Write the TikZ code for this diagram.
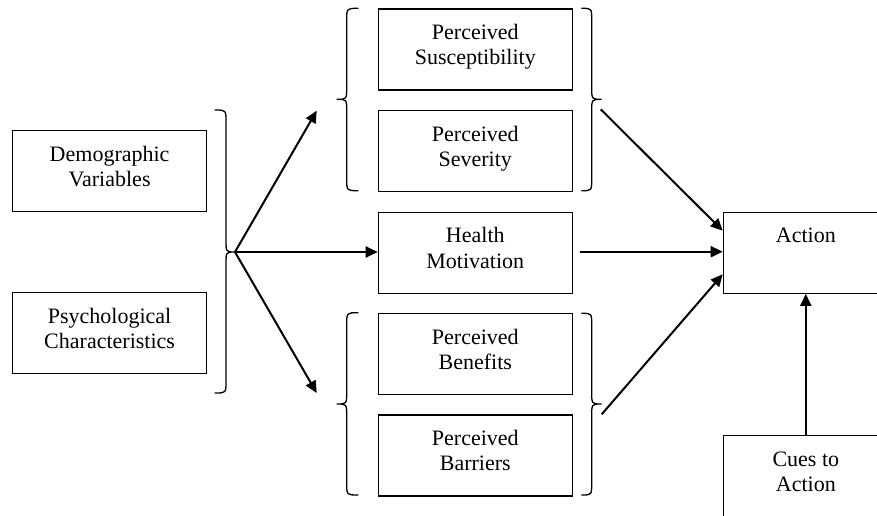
\documentclass[tikz,border=0pt]{standalone}
\usepackage{fontspec}
\setmainfont{Liberation Serif}
\usetikzlibrary{arrows.meta}
\newcommand\mybrace[7][]{%
  \draw[bracestyle,#1] (#2,#5) .. controls (#3,#5) .. (#3,#5+12) -- (#3,#6-12)
    .. controls (#3,#6) .. (#4,#6) .. controls (#3,#6) .. (#3,#6+12)
    -- (#3,#7-12) .. controls (#3,#7) .. (#2,#7);}
\begin{document}
\begin{tikzpicture}[x=1pt,y=-1pt,
  box/.style={draw, line width=1.2pt, align=center, inner xsep=2pt, inner ysep=0pt,
    text height=55.8pt, text depth=25.2pt, minimum width=194pt, anchor=north west,
    font=\fontsize{22}{25.3}\selectfont},
  narrowbox/.style={box, minimum width=165pt},
  bracestyle/.style={line width=1.3pt, line cap=round},
  arr/.style={line width=2pt, -{Triangle[length=12pt,width=11pt]}}]
\useasboundingbox (0,0) rectangle (877,515);
\clip (0,0) rectangle (877,515);
% left boxes
\node[box] (demo) at (12,130) {Demographic\\Variables};
\node[box] (psych) at (12,292) {Psychological\\Characteristics};
% middle boxes
\node[box] (sus) at (377.7,8.3) {Perceived\\Susceptibility};
\node[box] (sev) at (377.7,110) {Perceived\\Severity};
\node[box] (hm) at (377.7,211.7) {Health\\Motivation};
\node[box] (ben) at (377.7,313) {Perceived\\Benefits};
\node[box] (bar) at (377.7,414.3) {Perceived\\Barriers};
% right boxes
\node[narrowbox] (act) at (722.7,211.7) {Action\\\mbox{}};
\node[narrowbox] (cue) at (722.7,435) {Cues to\\Action};
% braces
\mybrace{215}{226}{235}{110}{252}{393}
\mybrace{358}{346.7}{336.7}{8.3}{99.3}{190.7}
\mybrace{358}{346.7}{336.7}{312.7}{404}{495}
\mybrace{581.7}{591.7}{601.7}{8.3}{99.3}{190.7}
\mybrace{581.7}{591.7}{601.7}{313.3}{404}{495}
% coordinates
\coordinate (bt) at (235,252);
\coordinate (up) at (316.7,110.7);
\coordinate (dn) at (316.7,393);
\coordinate (ts) at (600.7,109.3);
\coordinate (ms) at (580,251.7);
\coordinate (bs) at (601.7,414.3);
\coordinate (ta) at (722.7,230.7);
\coordinate (ba) at (722.7,274.3);
% arrows
\draw[arr] (bt) -- (up);
\draw[arr] (bt) -- (hm.west |- bt);
\draw[arr] (bt) -- (dn);
\draw[arr] (ts) -- (ta);
\draw[arr] (ms) -- (act.west |- ms);
\draw[arr] (bs) -- (ba);
\draw[arr] (cue.north) -- (act.south);
\end{tikzpicture}
\end{document}
